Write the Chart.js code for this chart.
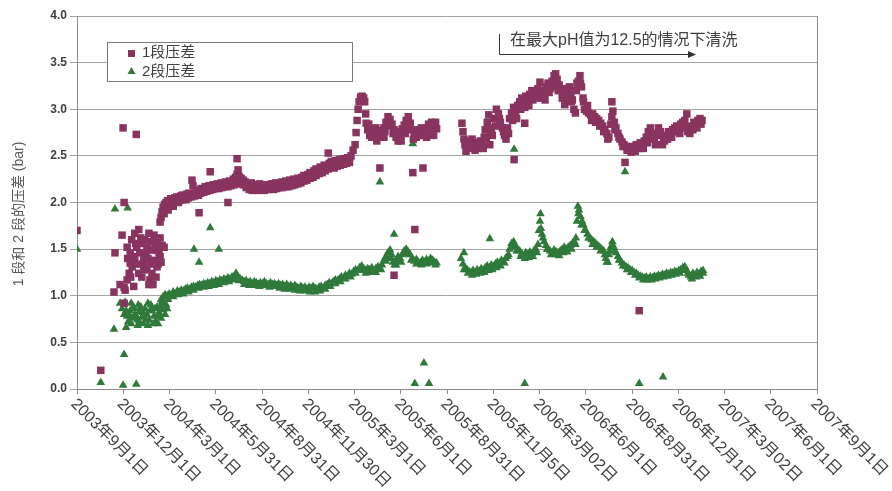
<!DOCTYPE html>
<html>
<head>
<meta charset="utf-8">
<script src="https://cdn.jsdelivr.net/npm/chart.js@4.4.0/dist/chart.umd.min.js"></script>
<style>
  html, body { margin: 0; padding: 0; background: #fff; }
</style>
</head>
<body>
<canvas id="chart" width="892" height="491"></canvas>
<script>
//================================ DADES
// x = dies des del 2003-09-01, y = pressió diferencial (bar)

const X_LABELS = [
  '2003年9月1日', '2003年12月1日', '2004年3月1日', '2004年5月31日', '2004年8月31日',
  '2004年11月30日', '2005年3月1日', '2005年6月1日', '2005年8月31日', '2005年11月5日',
  '2006年3月02日', '2006年6月1日', '2006年8月31日', '2006年12月1日', '2007年3月02日',
  '2007年6月1日', '2007年9月1日'
];
const X_MAX = 1461;
const Y_TICKS = [0, 0.5, 1.0, 1.5, 2.0, 2.5, 3.0, 3.5, 4.0];

const STAGE1_LABEL = '1段压差';
const STAGE2_LABEL = '2段压差';
const Y_TITLE = '1 段和 2 段的压差 (bar)';
const NOTE_TEXT = '在最大pH值为12.5的情况下清洗';

const stage1Points = [
  [0, 1.70], [47, 0.20], [91, 2.80], [117, 2.73], [93, 2.00], [93, 0.92],
  [73, 1.04], [75, 1.46], [89, 1.65], [95, 1.06], [99, 1.17], [105, 1.35], [99, 1.52],
  [114, 1.67], [122, 1.71], [128, 1.56], [132, 1.42], [138, 1.28], [144, 1.17], [158, 1.31],
  [164, 1.42], [168, 1.54], [164, 1.62], [152, 1.65], [142, 1.67], [134, 1.60], [118, 1.52],
  [113, 1.42], [109, 1.31], [122, 1.24], [132, 1.28], [152, 1.38], [158, 1.49], [148, 1.49],
  [124, 1.46], [138, 1.52], [158, 1.58], [172, 1.52], [93, 1.09], [103, 1.24], [114, 1.38],
  [105, 1.46], [132, 1.35], [148, 1.24], [85, 1.12], [108, 1.60], [126, 1.62], [146, 1.58],
  [160, 1.34], [150, 1.12],
  [116, 1.56], [120, 1.34], [128, 1.20], [136, 1.46], [140, 1.40], [146, 1.34], [154, 1.52],
  [162, 1.46], [166, 1.36], [156, 1.20], [142, 1.12], [130, 1.60], [112, 1.10], [100, 1.40],
  [106, 1.20],
  [164, 1.79], [166, 1.84], [168, 1.90], [170, 1.95], [173, 1.98], [176, 2.00], [179, 2.02],
  [182, 2.01], [185, 2.04], [189, 2.03], [193, 2.05], [197, 2.06], [201, 2.05], [205, 2.07],
  [209, 2.08], [213, 2.06], [217, 2.09], [221, 2.10], [225, 2.08], [227, 2.24], [229, 2.18],
  [233, 2.10], [237, 2.13], [241, 2.11], [245, 2.15], [249, 2.13], [253, 2.17], [257, 2.15],
  [261, 2.18], [265, 2.16], [269, 2.19], [273, 2.17], [277, 2.20], [281, 2.18], [285, 2.21],
  [289, 2.19], [293, 2.22], [297, 2.20], [301, 2.23], [305, 2.21], [309, 2.25], [313, 2.27],
  [316, 2.30], [318, 2.35], [320, 2.28], [324, 2.26], [328, 2.24], [332, 2.22],
  [180, 1.92], [190, 1.96], [200, 2.00], [215, 2.03], [240, 2.08],
  [241, 1.89], [263, 2.33], [298, 2.00], [316, 2.47],
  [172, 1.88], [178, 1.94], [184, 1.97], [190, 1.99], [196, 2.01], [202, 2.02], [208, 2.03],
  [214, 2.04], [220, 2.05], [226, 2.06], [232, 2.07], [238, 2.08], [244, 2.10], [250, 2.11],
  [256, 2.12], [262, 2.13], [268, 2.14], [274, 2.15], [280, 2.15], [286, 2.16], [292, 2.17],
  [298, 2.17], [304, 2.18], [310, 2.19], [316, 2.20], [322, 2.21], [328, 2.19], [334, 2.16],
  [340, 2.14], [346, 2.13], [352, 2.14], [358, 2.13], [364, 2.14], [370, 2.13], [376, 2.14],
  [382, 2.15], [388, 2.14], [394, 2.15], [400, 2.16], [406, 2.16], [412, 2.17], [418, 2.17],
  [424, 2.18], [430, 2.19], [436, 2.20], [442, 2.21], [448, 2.23], [454, 2.24], [460, 2.26],
  [466, 2.27], [472, 2.29], [478, 2.31], [484, 2.32], [490, 2.34], [496, 2.36], [502, 2.38],
  [508, 2.37], [514, 2.39], [520, 2.40], [526, 2.41], [532, 2.42], [538, 2.43],
  [336, 2.20], [340, 2.18], [344, 2.21], [348, 2.17], [352, 2.19], [356, 2.17], [360, 2.20],
  [364, 2.18], [368, 2.17], [372, 2.19], [376, 2.16], [380, 2.18], [384, 2.20], [388, 2.18],
  [392, 2.21], [396, 2.19], [400, 2.20], [404, 2.22], [408, 2.20], [412, 2.23], [416, 2.21],
  [420, 2.24], [424, 2.22], [428, 2.25], [432, 2.23], [436, 2.26], [440, 2.24], [444, 2.27],
  [448, 2.29], [452, 2.27], [456, 2.30], [460, 2.32], [464, 2.30], [468, 2.34], [472, 2.36],
  [476, 2.33], [480, 2.38], [484, 2.36], [488, 2.40], [492, 2.38], [496, 2.53], [498, 2.42],
  [502, 2.44], [506, 2.41], [510, 2.45], [514, 2.43], [518, 2.46], [522, 2.44], [526, 2.47],
  [530, 2.45], [534, 2.48], [538, 2.48], [541, 2.50], [545, 2.56], [549, 2.62], [551, 2.75],
  [553, 2.88], [555, 3.00], [557, 3.08], [560, 3.13], [563, 3.14], [566, 3.12], [568, 3.08],
  [570, 2.95], [571, 2.85],
  [574, 2.78], [578, 2.72], [582, 2.70], [586, 2.74], [590, 2.71], [594, 2.75], [598, 2.77],
  [602, 2.73], [606, 2.80], [610, 2.86], [614, 2.92], [618, 2.89], [622, 2.84], [626, 2.78],
  [630, 2.70], [634, 2.66], [638, 2.72], [642, 2.79], [646, 2.83], [650, 2.88], [654, 2.92],
  [658, 2.85], [662, 2.78], [666, 2.74], [670, 2.70], [674, 2.72], [678, 2.75], [682, 2.72],
  [686, 2.76], [690, 2.80], [694, 2.84], [698, 2.80], [702, 2.76], [706, 2.82], [710, 2.79],
  [590, 2.80], [606, 2.70], [650, 2.78], [690, 2.70], [700, 2.86],
  [576, 2.84], [584, 2.78], [592, 2.66], [600, 2.70], [608, 2.76], [616, 2.82], [624, 2.74],
  [632, 2.76], [640, 2.66], [648, 2.74], [656, 2.80], [664, 2.68], [672, 2.78], [680, 2.80],
  [688, 2.72], [696, 2.76], [704, 2.72], [708, 2.86],
  [598, 2.37], [663, 2.32], [683, 2.37], [626, 1.22], [667, 1.71],
  [760, 2.85], [762, 2.76], [764, 2.68], [766, 2.62], [768, 2.55], [772, 2.66], [776, 2.62],
  [780, 2.68], [784, 2.60], [788, 2.64], [792, 2.58], [796, 2.66], [800, 2.62], [804, 2.70],
  [806, 2.78], [810, 2.86], [813, 2.94], [816, 2.80], [820, 2.72], [824, 2.90], [828, 3.00],
  [832, 2.95], [836, 2.86], [840, 2.80], [844, 2.72], [847, 2.68], [850, 2.80], [854, 2.90],
  [858, 2.96], [862, 3.02], [866, 2.95], [870, 3.04], [874, 3.08], [878, 3.12], [882, 3.06],
  [886, 3.14], [890, 3.10], [894, 3.16], [898, 3.20], [902, 3.15], [906, 3.18], [910, 3.22],
  [914, 3.17], [918, 3.20], [922, 3.16], [926, 3.24], [930, 3.28], [934, 3.22], [938, 3.30],
  [942, 3.36], [945, 3.38], [948, 3.32], [952, 3.26], [956, 3.20],
  [770, 2.60], [778, 2.58], [786, 2.56], [794, 2.62], [802, 2.58], [808, 2.70], [818, 2.76],
  [826, 2.82], [834, 2.90], [842, 2.76], [852, 2.74], [860, 2.88], [868, 2.90], [876, 3.00],
  [884, 3.02], [892, 3.04], [900, 3.10], [908, 3.12], [916, 3.12], [924, 3.10], [932, 3.18],
  [940, 3.24], [950, 3.20], [958, 3.12],
  [815, 2.62], [884, 2.85], [863, 2.46], [914, 3.29],
  [960, 3.15], [963, 3.05], [966, 3.10], [969, 3.20], [972, 3.24], [975, 3.16], [978, 3.10],
  [981, 3.00], [984, 2.96], [987, 3.28], [990, 3.30], [993, 3.36], [996, 3.24], [999, 3.12],
  [1002, 3.00], [1006, 2.98], [1010, 2.96], [1014, 2.94], [1018, 2.95], [1022, 2.92],
  [1026, 2.90], [1030, 2.88], [1034, 2.85], [1038, 2.82], [1042, 2.78], [1046, 2.74],
  [1050, 2.70], [1054, 2.84], [1056, 3.08], [1058, 2.98], [1061, 2.86], [1064, 2.80],
  [1068, 2.74], [1072, 2.68], [1076, 2.65], [1080, 2.62], [1084, 2.60], [1088, 2.58],
  [1092, 2.60], [1096, 2.56], [1100, 2.58], [1104, 2.62], [1108, 2.60], [1112, 2.64],
  [1116, 2.62], [1120, 2.66], [1124, 2.70], [1128, 2.76], [1132, 2.80], [1136, 2.70],
  [1140, 2.68], [1144, 2.74], [1148, 2.80], [1152, 2.76], [1156, 2.62], [1160, 2.66],
  [1164, 2.72], [1168, 2.76], [1172, 2.74], [1176, 2.78], [1180, 2.80], [1184, 2.82],
  [1188, 2.78], [1192, 2.84], [1196, 2.86], [1200, 2.88], [1204, 2.95], [1206, 2.76],
  [1210, 2.74], [1214, 2.82], [1218, 2.86], [1222, 2.84], [1226, 2.88], [1230, 2.90],
  [1234, 2.88],
  [962, 3.22], [968, 3.12], [976, 3.08], [986, 3.20], [994, 3.28], [1000, 3.08], [1008, 3.04],
  [1016, 2.88], [1024, 2.86], [1032, 2.82], [1040, 2.76], [1048, 2.68], [1056, 2.92],
  [1062, 2.78], [1070, 2.70], [1078, 2.60], [1086, 2.56], [1094, 2.54], [1102, 2.55],
  [1110, 2.58], [1118, 2.58], [1126, 2.64], [1134, 2.74], [1142, 2.62], [1150, 2.72],
  [1158, 2.68], [1166, 2.68], [1174, 2.70], [1182, 2.76], [1190, 2.74], [1198, 2.80],
  [1208, 2.80], [1216, 2.78], [1224, 2.80], [1232, 2.84],
  [1082, 2.43], [1110, 0.84]
];

const stage2Points = [
  [0, 1.50], [47, 0.07], [75, 1.93], [100, 1.94], [93, 0.37], [91, 0.04], [117, 0.05],
  [73, 0.64], [97, 0.66], [231, 1.50], [241, 1.36], [280, 1.50], [263, 1.73], [298, 2.20],
  [598, 2.22], [663, 2.63], [626, 1.66], [667, 0.06], [685, 0.28], [695, 0.06], [884, 0.06],
  [815, 1.61], [764, 1.46], [863, 2.57], [1082, 2.33], [1110, 0.06], [1157, 0.13],
  [85, 0.92], [89, 0.86], [93, 0.80], [95, 0.93], [99, 0.78], [101, 0.72], [105, 0.84],
  [109, 0.76], [111, 0.88], [115, 0.80], [119, 0.74], [121, 0.90], [124, 0.83], [128, 0.77],
  [131, 0.70], [134, 0.86], [138, 0.80], [142, 0.74], [146, 0.90], [148, 0.84], [152, 0.78],
  [155, 0.72], [158, 0.88], [162, 0.82], [166, 0.76], [170, 0.85], [174, 0.80], [176, 0.90],
  [168, 0.94], [160, 0.70], [140, 0.68], [120, 0.68], [107, 0.70],
  [97, 0.84], [103, 0.80], [107, 0.92], [113, 0.86], [117, 0.78], [123, 0.72], [126, 0.88],
  [130, 0.82], [136, 0.74], [140, 0.92], [144, 0.84], [150, 0.70], [154, 0.86], [160, 0.78],
  [164, 0.88], [172, 0.92], [178, 0.86],
  [166, 0.96], [170, 0.99], [174, 1.01], [178, 1.00], [182, 1.02], [186, 1.01], [190, 1.04],
  [194, 1.02], [198, 1.05], [202, 1.04], [206, 1.06], [210, 1.05], [214, 1.07], [218, 1.08],
  [222, 1.07], [226, 1.09], [230, 1.10], [234, 1.09], [238, 1.11], [242, 1.12], [246, 1.11],
  [250, 1.13], [254, 1.12], [258, 1.14], [262, 1.13], [266, 1.15], [270, 1.14], [274, 1.16],
  [278, 1.15], [282, 1.17], [286, 1.16], [290, 1.18], [294, 1.17], [298, 1.19], [302, 1.18],
  [306, 1.20], [310, 1.21], [314, 1.24], [318, 1.20], [322, 1.18], [326, 1.17], [330, 1.15],
  [334, 1.16], [338, 1.14], [342, 1.15], [346, 1.13], [350, 1.15], [354, 1.14], [358, 1.12],
  [362, 1.14], [366, 1.13], [370, 1.15], [374, 1.13], [378, 1.12], [382, 1.14], [386, 1.12],
  [390, 1.13], [394, 1.11], [398, 1.13], [402, 1.11], [406, 1.12], [410, 1.10], [414, 1.12],
  [418, 1.10], [422, 1.11], [426, 1.09], [430, 1.11], [434, 1.09], [438, 1.08], [442, 1.10],
  [446, 1.08], [450, 1.09], [454, 1.07], [458, 1.09], [462, 1.08], [466, 1.10], [470, 1.08],
  [474, 1.07], [478, 1.09], [482, 1.10], [486, 1.08], [490, 1.11], [494, 1.12], [498, 1.14],
  [502, 1.13], [506, 1.15], [510, 1.17], [514, 1.16], [518, 1.18], [522, 1.20], [526, 1.19],
  [530, 1.22], [534, 1.21], [538, 1.24], [542, 1.23], [546, 1.26], [550, 1.28], [554, 1.27],
  [558, 1.30], [562, 1.32], [566, 1.29], [570, 1.27], [574, 1.29], [578, 1.28], [582, 1.30],
  [586, 1.27], [590, 1.29], [594, 1.31], [598, 1.30], [602, 1.33], [606, 1.38], [610, 1.42],
  [614, 1.46], [618, 1.49], [621, 1.44], [624, 1.36], [627, 1.33], [630, 1.38], [634, 1.42],
  [638, 1.40], [642, 1.44], [646, 1.48], [650, 1.50], [654, 1.47], [658, 1.44], [662, 1.40],
  [666, 1.37], [670, 1.39], [674, 1.36], [678, 1.35], [682, 1.38], [686, 1.36], [690, 1.39],
  [694, 1.37], [698, 1.40], [702, 1.38], [706, 1.36], [710, 1.35],
  [180, 0.96], [190, 0.99], [200, 1.01], [210, 1.02], [220, 1.04], [230, 1.06], [240, 1.08],
  [250, 1.09], [260, 1.10], [270, 1.11], [280, 1.12], [290, 1.14], [300, 1.15], [310, 1.17],
  [320, 1.16], [330, 1.12], [340, 1.11], [350, 1.11], [360, 1.10], [370, 1.11], [380, 1.09],
  [390, 1.10], [400, 1.08], [410, 1.07], [420, 1.07], [430, 1.06], [440, 1.05], [450, 1.05],
  [460, 1.04], [470, 1.04], [480, 1.05], [490, 1.07], [500, 1.10], [510, 1.13], [520, 1.15],
  [530, 1.18], [540, 1.20], [550, 1.24], [560, 1.27], [570, 1.24], [580, 1.25], [590, 1.25],
  [600, 1.28], [610, 1.37], [620, 1.40], [630, 1.33], [640, 1.36], [650, 1.45], [660, 1.38],
  [670, 1.34], [680, 1.33], [690, 1.34], [700, 1.35], [708, 1.33],
  [758, 1.40], [762, 1.34], [766, 1.30], [770, 1.28], [774, 1.26], [778, 1.25], [782, 1.27],
  [786, 1.25], [790, 1.28], [794, 1.26], [798, 1.29], [802, 1.27], [806, 1.30], [810, 1.32],
  [814, 1.30], [818, 1.33], [822, 1.31], [826, 1.34], [830, 1.36], [834, 1.34], [838, 1.38],
  [842, 1.36], [846, 1.40], [850, 1.42], [854, 1.50], [858, 1.56], [862, 1.58], [866, 1.53],
  [870, 1.50], [874, 1.48], [878, 1.45], [882, 1.43], [886, 1.46], [890, 1.44], [894, 1.47],
  [898, 1.45], [902, 1.48], [906, 1.50], [910, 1.55], [912, 1.70], [914, 1.80], [915, 1.88],
  [918, 1.66], [922, 1.58], [926, 1.54], [930, 1.50], [934, 1.48], [938, 1.46], [942, 1.49],
  [946, 1.47], [950, 1.46], [954, 1.48], [958, 1.50], [962, 1.52],
  [764, 1.28], [772, 1.24], [780, 1.22], [788, 1.23], [796, 1.24], [804, 1.25], [812, 1.27],
  [820, 1.28], [828, 1.30], [836, 1.32], [844, 1.35], [852, 1.44], [860, 1.52], [868, 1.48],
  [876, 1.42], [884, 1.40], [892, 1.41], [900, 1.42], [908, 1.46], [916, 1.72], [920, 1.62],
  [928, 1.50], [936, 1.44], [944, 1.44], [952, 1.43], [960, 1.46],
  [966, 1.50], [970, 1.52], [974, 1.54], [978, 1.56], [982, 1.58], [985, 1.62], [987, 1.80],
  [989, 1.96], [991, 1.92], [994, 1.85], [997, 1.80], [1000, 1.76], [1004, 1.70],
  [1008, 1.66], [1012, 1.62], [1016, 1.60], [1020, 1.58], [1024, 1.56], [1028, 1.54],
  [1032, 1.52], [1036, 1.50], [1040, 1.48], [1044, 1.40], [1048, 1.36], [1050, 1.44],
  [1054, 1.52], [1057, 1.58], [1060, 1.52], [1064, 1.46], [1068, 1.42], [1072, 1.38],
  [1076, 1.35], [1080, 1.33], [1084, 1.31], [1088, 1.30], [1092, 1.28], [1096, 1.27],
  [1100, 1.25], [1104, 1.24], [1108, 1.22], [1112, 1.21], [1116, 1.20], [1120, 1.19],
  [1124, 1.20], [1128, 1.18], [1132, 1.20], [1136, 1.19], [1140, 1.21], [1144, 1.20],
  [1148, 1.22], [1152, 1.21], [1156, 1.23], [1160, 1.22], [1164, 1.24], [1168, 1.23],
  [1172, 1.25], [1176, 1.24], [1180, 1.26], [1184, 1.25], [1188, 1.27], [1192, 1.28],
  [1196, 1.30], [1200, 1.31], [1204, 1.27], [1208, 1.22], [1212, 1.20], [1216, 1.24],
  [1220, 1.22], [1224, 1.25], [1228, 1.23], [1232, 1.26], [1236, 1.24],
  [968, 1.47], [976, 1.50], [984, 1.55], [990, 1.88], [996, 1.76], [1002, 1.70], [1010, 1.62],
  [1018, 1.55], [1026, 1.52], [1034, 1.48], [1042, 1.44], [1046, 1.36], [1052, 1.48],
  [1056, 1.54], [1062, 1.48], [1070, 1.38], [1078, 1.32], [1086, 1.28], [1094, 1.25],
  [1102, 1.22], [1110, 1.19], [1118, 1.17], [1126, 1.17], [1134, 1.17], [1142, 1.18],
  [1150, 1.19], [1158, 1.20], [1166, 1.21], [1174, 1.22], [1182, 1.23], [1190, 1.24],
  [1198, 1.27], [1206, 1.24], [1214, 1.18], [1222, 1.20], [1230, 1.21], [1236, 1.27]
];

//================================ ESTILS

const FONT = "'Liberation Sans', Arial, 'Noto Sans CJK SC', sans-serif";
const STAGE1_COLOR = '#88345f';
const STAGE2_COLOR = '#2f7a3b';
const GRID_COLOR = '#a3a3a3';
const AXIS_COLOR = '#8c8c8c';
const TEXT_COLOR = '#404040';

Chart.defaults.font.family = FONT;

function toXY (pairs) {
  const out = [];
  for (let i = 0; i < pairs.length; i++) {
    out.push({ x: pairs[i][0], y: pairs[i][1] });
  }
  return out;
}

//================================ PLUGIN: marc, títol y, etiquetes x, llegenda, nota

const decorPlugin = {
  id: 'decor',
  afterDraw (chart) {
    const ctx = chart.ctx;
    const area = chart.chartArea;
    const xs = chart.scales.x;
    const step = X_MAX / (X_LABELS.length - 1);
    ctx.save();

    // vora dreta de l'àrea del gràfic
    ctx.strokeStyle = AXIS_COLOR;
    ctx.lineWidth = 1;
    ctx.beginPath();
    ctx.moveTo(Math.round(area.right) + 0.5, area.top);
    ctx.lineTo(Math.round(area.right) + 0.5, area.bottom);
    ctx.stroke();

    // títol de l'eix y
    ctx.save();
    ctx.translate(19, 214);
    ctx.rotate(-Math.PI / 2);
    ctx.font = '14px ' + FONT;
    ctx.fillStyle = '#5a5a5a';
    ctx.textAlign = 'center';
    ctx.textBaseline = 'middle';
    ctx.fillText(Y_TITLE, 0, 0);
    ctx.restore();

    // etiquetes de l'eix x, girades 45° cap avall
    ctx.font = '16px ' + FONT;
    ctx.fillStyle = TEXT_COLOR;
    ctx.textAlign = 'left';
    ctx.textBaseline = 'top';
    for (let i = 0; i < X_LABELS.length; i++) {
      const px = xs.getPixelForValue(i * step);
      ctx.save();
      ctx.translate(px + 2, area.bottom + 7);
      ctx.rotate(Math.PI / 4);
      ctx.fillText(X_LABELS[i], 0, 0);
      ctx.restore();
    }

    // llegenda
    const lx = 107, ly = 42, lw = 245, lh = 39;
    ctx.fillStyle = '#ffffff';
    ctx.fillRect(lx, ly, lw, lh);
    ctx.strokeStyle = '#7a7a7a';
    ctx.strokeRect(lx + 0.5, ly + 0.5, lw, lh);
    ctx.fillStyle = STAGE1_COLOR;
    ctx.fillRect(128, 50, 7, 7);
    ctx.fillStyle = STAGE2_COLOR;
    ctx.beginPath();
    ctx.moveTo(131.5, 67);
    ctx.lineTo(135.5, 74);
    ctx.lineTo(127.5, 74);
    ctx.closePath();
    ctx.fill();
    ctx.font = '15px ' + FONT;
    ctx.fillStyle = TEXT_COLOR;
    ctx.textBaseline = 'middle';
    ctx.fillText(STAGE1_LABEL, 142, 53);
    ctx.fillText(STAGE2_LABEL, 142, 72);

    // nota amb fletxa
    ctx.font = '16px ' + FONT;
    ctx.fillText(NOTE_TEXT, 510, 41);
    ctx.strokeStyle = '#333333';
    ctx.beginPath();
    ctx.moveTo(499.5, 34);
    ctx.lineTo(499.5, 54.5);
    ctx.lineTo(689, 54.5);
    ctx.stroke();
    ctx.fillStyle = '#333333';
    ctx.beginPath();
    ctx.moveTo(696, 54.5);
    ctx.lineTo(688, 51);
    ctx.lineTo(688, 58);
    ctx.closePath();
    ctx.fill();

    ctx.restore();
  }
};

//================================ GRÀFIC

new Chart(document.getElementById('chart'), {
  type: 'scatter',
  data: {
    datasets: [
      {
        label: STAGE1_LABEL,
        data: toXY(stage1Points),
        pointStyle: 'rect',
        pointRadius: 5.3,
        pointHoverRadius: 5.3,
        pointBackgroundColor: STAGE1_COLOR,
        pointBorderWidth: 0,
      },
      {
        label: STAGE2_LABEL,
        data: toXY(stage2Points),
        pointStyle: 'triangle',
        pointRadius: 5,
        pointHoverRadius: 5,
        pointBackgroundColor: STAGE2_COLOR,
        pointBorderWidth: 0,
      },
    ],
  },
  options: {
    responsive: false,
    animation: false,
    events: [],
    layout: {
      padding: { top: 16, right: 75, bottom: 0, left: 0 },
    },
    plugins: {
      legend: { display: false },
      tooltip: { enabled: false },
    },
    scales: {
      x: {
        type: 'linear',
        min: 0,
        max: X_MAX,
        afterBuildTicks (scale) {
          const ticks = [];
          const step = X_MAX / (X_LABELS.length - 1);
          for (let i = 0; i < X_LABELS.length; i++) {
            ticks.push({ value: i * step });
          }
          scale.ticks = ticks;
        },
        afterFit (scale) {
          scale.height = 102;
        },
        ticks: { display: false },
        grid: { drawOnChartArea: false, drawTicks: true, tickLength: 5, color: AXIS_COLOR },
        border: { color: AXIS_COLOR },
      },
      y: {
        min: 0,
        max: 4,
        afterBuildTicks (scale) {
          const ticks = [];
          for (let i = 0; i < Y_TICKS.length; i++) {
            ticks.push({ value: Y_TICKS[i] });
          }
          scale.ticks = ticks;
        },
        afterFit (scale) {
          scale.width = 77;
        },
        ticks: {
          color: TEXT_COLOR,
          font: { size: 12, weight: 'bold' },
          padding: 3,
          callback: (v) => Number(v).toFixed(1),
        },
        grid: { color: GRID_COLOR, tickLength: 7 },
        border: { color: AXIS_COLOR },
      },
    },
  },
  plugins: [decorPlugin],
});
</script>
</body>
</html>
